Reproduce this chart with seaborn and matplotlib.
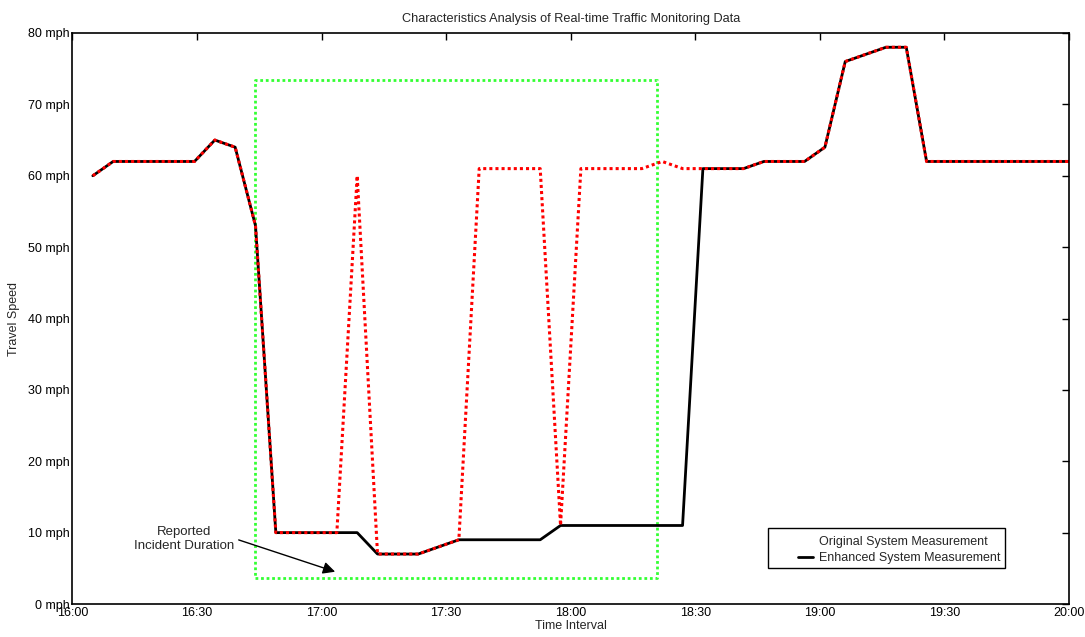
import numpy as np
import pandas as pd
import matplotlib
matplotlib.use("Agg")
import matplotlib.pyplot as plt
import seaborn as sns
from matplotlib.lines import Line2D
from matplotlib.patches import Rectangle

# ---- data ----
enhanced = [60, 62, 62, 62, 62, 62, 65, 64, 53, 10, 10, 10, 10, 10, 7, 7, 7, 8, 9, 9,
            9, 9, 9, 11, 11, 11, 11, 11, 11, 11, 61, 61, 61, 62, 62, 62, 64, 76, 77, 78,
            78, 62, 62, 62, 62, 62, 62, 62, 62]
original = [60, 62, 62, 62, 62, 62, 65, 64, 53, 10, 10, 10, 10, 60, 7, 7, 7, 8, 9, 61,
            61, 61, 61, 11, 61, 61, 61, 61, 62, 61, 61, 61, 61, 62, 62, 62, 64, 76, 77, 78,
            78, 62, 62, 62, 62, 62, 62, 62, 62]
tick_minutes = [0, 30, 60, 90, 120, 150, 180, 210, 240]
tick_labels = ["16:00", "16:30", "17:00", "17:30", "18:00", "18:30", "19:00", "19:30", "20:00"]
y_ticks = [0, 10, 20, 30, 40, 50, 60, 70, 80]
y_labels = [f"{v} mph" for v in y_ticks]
incident_start, incident_end = 44.0, 140.7   # minutes after 16:00
incident_low, incident_high = 3.7, 73.4

# sampling times (minutes after 16:00), evenly spaced samples ending at 20:00
minutes = np.linspace(0, 240, len(enhanced) + 1)[1:]

df = pd.DataFrame({"t": minutes, "Enhanced": enhanced, "Original": original})

sns.set_style("white")
plt.rcParams["font.family"] = ["Liberation Sans", "DejaVu Sans"]

fig = plt.figure(figsize=(10.85, 6.37), dpi=100)
ax = fig.add_axes([0.0668, 0.0518, 0.9184, 0.8964])

# incident box
ax.plot([incident_start, incident_end, incident_end, incident_start, incident_start],
        [incident_low, incident_low, incident_high, incident_high, incident_low],
        color="#33ff33", lw=2, linestyle=(0, (1, 1)), zorder=1)

sns.lineplot(data=df, x="t", y="Enhanced", ax=ax, color="black", lw=2,
             zorder=3, legend=False)
sns.lineplot(data=df, x="t", y="Original", ax=ax, color="red", lw=2.2,
             linestyle=(0, (1, 1)), zorder=4, legend=False)

ax.set_xlim(0, 240)
ax.set_ylim(0, 80)
ax.set_xticks(tick_minutes)
ax.set_xticklabels(tick_labels)
ax.set_yticks(y_ticks)
ax.set_yticklabels(y_labels)
ax.tick_params(direction="in", length=5, width=1, labelsize=9, top=True, right=True,
               pad=2, colors="black")
for s in ax.spines.values():
    s.set_color("black")
    s.set_linewidth(1.2)

ax.set_xlabel("Time Interval", fontsize=9, labelpad=1)
ax.set_ylabel("Travel Speed", fontsize=9, labelpad=6)
ax.set_title("Characteristics Analysis of Real-time Traffic Monitoring Data",
             fontsize=9.2, pad=8)

# annotation
ax.annotate("", xy=(63.9, 4.4), xytext=(39.4, 9.1),
            arrowprops=dict(arrowstyle="-|>", color="black", lw=1,
                            mutation_scale=18))
ax.text(26.9, 9.1, "Reported\nIncident Duration", ha="center", va="center",
        fontsize=9.5, linespacing=1.25)

# legend
handles = [Line2D([], [], color="white", lw=0),
           Line2D([], [], color="black", lw=2)]
leg = ax.legend(handles, ["Original System Measurement", "Enhanced System Measurement"],
                loc="center left", bbox_to_anchor=(0.7355, 0.1365),
                bbox_transform=fig.transFigure, fontsize=9,
                frameon=False, handlelength=1.2, handletextpad=0.45,
                borderpad=0, borderaxespad=0, labelspacing=0.3)
fig.add_artist(Rectangle((768 / 1085, 1 - 568 / 637), 237 / 1085, 40 / 637,
                         transform=fig.transFigure, fill=False,
                         edgecolor="black", lw=1, zorder=5))

fig.savefig("out.png", dpi=100)
